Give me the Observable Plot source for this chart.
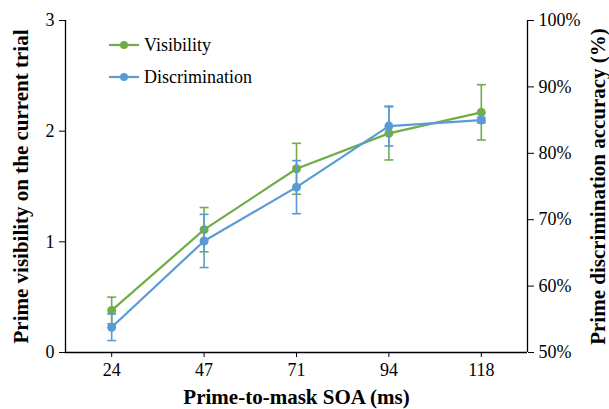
<!DOCTYPE html>
<html>
<head>
<meta charset="utf-8">
<script src="https://cdn.jsdelivr.net/npm/d3@7"></script>
<script src="https://cdn.jsdelivr.net/npm/@observablehq/plot@0.6"></script>
<style>
  html, body { margin: 0; padding: 0; background: #fff; }
  #wrap { position: relative; width: 609px; height: 409px; font-family: "Liberation Serif", serif; }
  #legend { position: absolute; left: 108px; top: 29px; font-size: 18px; color: #000; }
  .item { display: flex; align-items: center; height: 32px; }
  .item svg { margin-right: 4px; }
</style>
</head>
<body>
<div id="wrap"><div id="legend"></div></div>
<script>
const soa = ["24", "47", "71", "94", "118"];
const visibility = [0.38, 1.11, 1.66, 1.98, 2.17];
const visibilityErr = [0.12, 0.20, 0.23, 0.24, 0.25];
const discrimination = [53.8, 66.8, 74.9, 84.1, 85.0];
const discriminationErr = [2.0, 4.0, 4.0, 3.0, 0.4];
const leftTicks = [0, 1, 2, 3];
const rightTicks = [50, 60, 70, 80, 90, 100];
const seriesNames = ["Visibility", "Discrimination"];
const colors = ["#70AD47", "#5B9BD5"];
const xTitle = "Prime-to-mask SOA (ms)";
const yLeftTitle = "Prime visibility on the current trial";
const yRightTitle = "Prime discrimination accuracy (%)";

const toLeft = p => (p - 50) / 50 * 3;
const fromLeft = v => v / 3 * 50 + 50;

const vis = soa.map((s, i) => ({i, v: visibility[i], lo: visibility[i] - visibilityErr[i], hi: visibility[i] + visibilityErr[i]}));
const dis = soa.map((s, i) => ({i, v: toLeft(discrimination[i]), lo: toLeft(discrimination[i] - discriminationErr[i]), hi: toLeft(discrimination[i] + discriminationErr[i])}));

const cap = {draw(ctx) { ctx.moveTo(-4.5, 0); ctx.lineTo(4.5, 0); }};

function seriesMarks(rows, color) {
  return [
    Plot.ruleX(rows, {x: "i", y1: "lo", y2: "hi", stroke: color, strokeWidth: 1.6}),
    Plot.dot(rows, {x: "i", y: "lo", symbol: cap, r: 4, fill: "none", stroke: color, strokeWidth: 1.6}),
    Plot.dot(rows, {x: "i", y: "hi", symbol: cap, r: 4, fill: "none", stroke: color, strokeWidth: 1.6}),
    Plot.line(rows, {x: "i", y: "v", stroke: color, strokeWidth: 2.2}),
    Plot.dot(rows, {x: "i", y: "v", r: 4.5, fill: color, stroke: "none"})
  ];
}

const chart = Plot.plot({
  width: 609,
  height: 409,
  marginLeft: 65,
  marginRight: 82,
  marginTop: 20,
  marginBottom: 57,
  style: {fontFamily: "Liberation Serif, serif", fontSize: "18px", color: "#000", background: "#fff"},
  x: {domain: [-0.5, soa.length - 0.5]},
  y: {domain: [0, 3]},
  marks: [
    Plot.axisX({ticks: soa.map((s, i) => i), tickFormat: i => soa[i], tickSize: 5, tickPadding: 6, label: null}),
    Plot.axisY({ticks: leftTicks, tickFormat: d => String(d), tickSize: 6, tickPadding: 5, label: null}),
    Plot.axisY({anchor: "right", ticks: rightTicks.map(toLeft), tickFormat: d => Math.round(fromLeft(d)) + "%", tickSize: 6, tickPadding: 5, label: null}),
    Plot.ruleX([-0.5, soa.length - 0.5], {stroke: "#000", strokeWidth: 1.3}),
    Plot.ruleY([0], {stroke: "#000", strokeWidth: 1.3}),
    ...seriesMarks(vis, colors[0]),
    ...seriesMarks(dis, colors[1]),
    Plot.text([xTitle], {text: d => d, frameAnchor: "bottom", lineAnchor: "middle", textAnchor: "middle", dy: 45, fontWeight: "bold", fontSize: 21}),
    Plot.text([yLeftTitle], {text: d => d, frameAnchor: "left", rotate: -90, lineAnchor: "middle", textAnchor: "middle", dx: -44, fontWeight: "bold", fontSize: 21}),
    Plot.text([yRightTitle], {text: d => d, frameAnchor: "right", rotate: -90, lineAnchor: "middle", textAnchor: "middle", dx: 71, fontWeight: "bold", fontSize: 21})
  ]
});
document.getElementById("wrap").prepend(chart);

const legend = document.getElementById("legend");
seriesNames.forEach((name, k) => {
  const item = document.createElement("div");
  item.className = "item";
  item.innerHTML = `<svg width="32" height="12"><line x1="1" x2="31" y1="6" y2="6" stroke="${colors[k]}" stroke-width="2.2"/><circle cx="16" cy="6" r="4" fill="${colors[k]}"/></svg><span>${name}</span>`;
  legend.appendChild(item);
});
</script>
</body>
</html>
